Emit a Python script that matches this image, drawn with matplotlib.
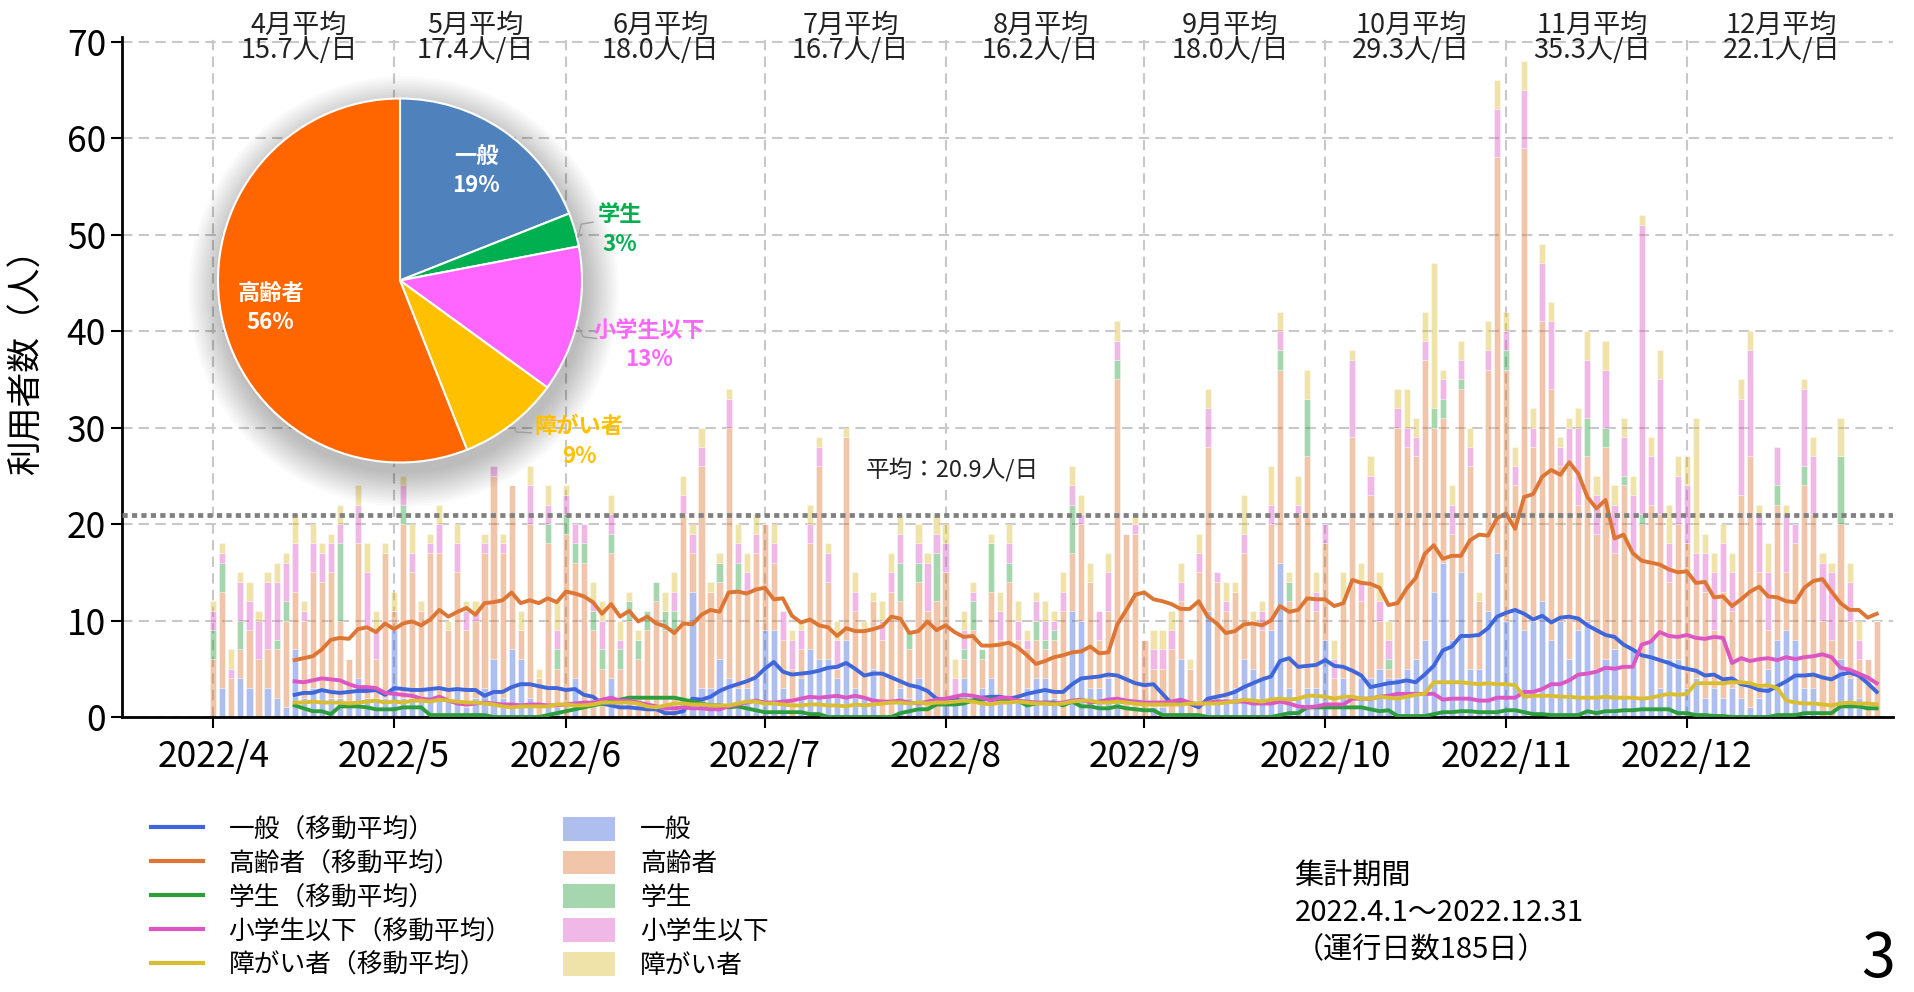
import numpy as np
import pandas as pd
import matplotlib
matplotlib.use('Agg')
import matplotlib.pyplot as plt
from matplotlib.patches import Circle, Patch
from matplotlib.lines import Line2D

plt.rcParams['font.family'] = ['Noto Sans CJK JP', 'DejaVu Sans']

# 日別の利用者数（運行日 185日）
ippan = [0, 3, 0, 4, 3, 0, 3, 2, 1, 7, 2, 3, 3, 2, 2, 1, 4, 2, 2, 2,
         9, 2, 2, 2, 3, 2, 2, 3, 1, 2, 3, 6, 2, 7, 6, 2, 0, 1, 1,
         0, 4, 0, 0, 0, 4, 0, 0, 0, 0, 0, 0, 0, 2, 13, 3, 3, 6, 4, 3, 3, 4,
         9, 9, 3, 0, 4, 7, 6, 6, 4, 8, 3, 2, 5, 0, 0, 3, 2, 4, 0, 0,
         2, 2, 4, 0, 3, 4, 2, 2, 2, 3, 4, 4, 2, 0, 11, 10, 3, 3, 4, 2, 0, 0,
         0, 1, 1, 0, 6, 0, 0, 11, 2, 2, 3, 6, 5, 4, 9, 16, 3, 2, 3, 3,
         8, 0, 4, 0, 4, 4, 5, 4, 4, 5, 6, 8, 13, 16, 8, 15, 5, 5, 11, 17,
         10, 11, 9, 10, 12, 8, 10, 6, 9, 10, 5, 6, 7, 2, 7, 2, 8, 3, 6, 6,
         3, 4, 2, 3, 2, 3, 2, 1, 2, 5, 8, 9, 8, 3, 3, 0, 0, 6, 4, 2, 0, 0]
koureisha = [6, 10, 4, 3, 6, 6, 4, 5, 9, 6, 8, 12, 11, 13, 8, 5, 14, 7, 4, 15,
             2, 18, 13, 9, 14, 15, 7, 12, 8, 8, 14, 19, 15, 17, 3, 18, 4, 17, 4,
             19, 12, 16, 9, 5, 13, 5, 10, 6, 9, 12, 9, 9, 19, 4, 23, 10, 8, 26, 10, 10, 13,
             11, 7, 5, 5, 3, 11, 20, 8, 1, 21, 8, 7, 7, 8, 13, 9, 5, 10, 11, 12,
             13, 0, 2, 9, 3, 9, 6, 12, 6, 4, 4, 3, 6, 11, 6, 10, 11, 5, 7, 33, 19, 19,
             8, 4, 4, 7, 6, 5, 15, 17, 12, 9, 10, 11, 5, 5, 11, 20, 9, 19, 24, 8,
             10, 4, 8, 29, 8, 19, 5, 1, 26, 23, 21, 29, 17, 15, 11, 19, 21, 7, 25, 41,
             26, 13, 50, 18, 29, 26, 16, 20, 13, 17, 14, 22, 10, 22, 10, 18, 14, 18, 8, 14,
             15, 10, 11, 6, 11, 8, 21, 26, 13, 4, 14, 6, 10, 21, 18, 10, 8, 14, 6, 4, 6, 10]
gakusei = [3, 3, 0, 3, 0, 0, 0, 1, 2, 0, 0, 0, 0, 0, 8, 0, 0, 0, 0, 0,
           0, 2, 0, 0, 0, 0, 0, 0, 0, 0, 0, 0, 0, 0, 0, 0, 0, 2, 2,
           2, 2, 2, 2, 2, 2, 2, 2, 2, 2, 2, 2, 2, 0, 0, 0, 0, 2, 0, 3, 0, 0,
           0, 0, 0, 0, 0, 0, 0, 0, 0, 0, 0, 0, 0, 0, 0, 4, 2, 2, 0, 5,
           0, 0, 1, 3, 1, 5, 0, 2, 0, 0, 2, 1, 1, 0, 5, 0, 0, 0, 0, 2, 0, 0,
           0, 0, 0, 0, 0, 0, 0, 0, 0, 0, 0, 0, 0, 0, 0, 2, 2, 0, 6, 0,
           0, 0, 0, 0, 0, 0, 0, 1, 0, 0, 0, 0, 2, 2, 0, 1, 0, 0, 0, 0,
           2, 0, 0, 0, 0, 0, 0, 0, 0, 4, 0, 2, 0, 1, 0, 1, 0, 0, 0, 0,
           0, 0, 0, 0, 0, 0, 0, 0, 0, 0, 2, 0, 0, 2, 0, 0, 0, 7, 0, 0, 0, 0]
shougaku = [2, 1, 1, 4, 3, 4, 7, 6, 4, 5, 1, 3, 3, 3, 2, 0, 4, 6, 3, 0,
            0, 2, 2, 0, 1, 3, 0, 3, 2, 1, 1, 1, 1, 0, 0, 4, 0, 2, 2,
            2, 2, 2, 1, 3, 2, 1, 0, 0, 0, 0, 0, 2, 2, 2, 2, 0, 0, 3, 2, 2, 2,
            0, 2, 3, 3, 2, 2, 2, 3, 3, 0, 2, 0, 0, 2, 2, 3, 0, 2, 5, 2,
            3, 2, 2, 1, 0, 0, 3, 2, 2, 1, 2, 2, 1, 2, 2, 1, 0, 3, 4, 2, 0, 1,
            0, 2, 2, 2, 2, 0, 2, 4, 1, 1, 0, 2, 0, 2, 2, 2, 0, 1, 0, 2,
            2, 2, 0, 8, 2, 2, 2, 2, 2, 2, 2, 2, 0, 2, 3, 2, 2, 0, 2, 5,
            2, 2, 6, 2, 6, 7, 2, 4, 8, 6, 4, 6, 5, 4, 6, 30, 5, 14, 4, 5,
            6, 3, 4, 6, 5, 4, 10, 11, 6, 6, 4, 6, 2, 8, 6, 6, 7, 0, 4, 2, 0, 0]
shougai = [1, 1, 2, 1, 2, 1, 1, 2, 1, 3, 1, 2, 1, 1, 2, 0, 2, 3, 2, 1,
           2, 1, 3, 1, 1, 2, 1, 2, 1, 1, 1, 0, 1, 0, 2, 2, 1, 2, 3,
           1, 0, 0, 2, 2, 2, 2, 1, 1, 0, 0, 2, 2, 2, 1, 2, 1, 1, 1, 2, 2, 2,
           0, 2, 0, 1, 1, 2, 1, 1, 2, 1, 2, 1, 1, 2, 2, 2, 0, 2, 1, 2,
           2, 2, 2, 1, 0, 1, 2, 2, 2, 1, 1, 2, 1, 2, 2, 2, 2, 0, 2, 2, 0, 1,
           0, 2, 2, 2, 2, 1, 2, 2, 0, 2, 1, 4, 1, 1, 4, 2, 1, 3, 3, 2,
           0, 2, 3, 1, 2, 2, 3, 2, 2, 4, 2, 3, 15, 1, 2, 2, 2, 1, 3, 3,
           2, 2, 3, 2, 2, 2, 1, 1, 2, 3, 2, 3, 2, 2, 2, 1, 2, 3, 4, 2,
           3, 14, 2, 2, 2, 2, 2, 2, 1, 3, 0, 1, 0, 1, 2, 1, 1, 4, 2, 2, 0, 0]

month_start = [0, 20, 39, 61, 81, 103, 123, 143, 163]
month_labels = ['2022/4', '2022/5', '2022/6', '2022/7', '2022/8',
                '2022/9', '2022/10', '2022/11', '2022/12']
month_names = ['4月', '5月', '6月', '7月', '8月', '9月', '10月', '11月', '12月']
month_avg = [15.7, 17.4, 18.0, 16.7, 16.2, 18.0, 29.3, 35.3, 22.1]
overall_avg = 20.9

pie_names = ['一般', '学生', '小学生以下', '障がい者', '高齢者']
pie_share = [19, 3, 13, 9, 56]

df = pd.DataFrame({'一般': ippan, '高齢者': koureisha, '学生': gakusei,
                   '小学生以下': shougaku, '障がい者': shougai})
x = np.arange(len(df))
line_colors = {'一般': '#3F66DA', '高齢者': '#DD7634', '学生': '#2C9E3C',
               '小学生以下': '#DC56C4', '障がい者': '#D9BE33'}

fig = plt.figure(figsize=(19.15, 9.92), dpi=100)
ax = fig.add_axes([0.0637, 0.2772, 0.9248, 0.6858])

# 積み上げ棒
bottom = np.zeros(len(df))
for col in df.columns:
    ax.bar(x, df[col], bottom=bottom, width=0.68, color=line_colors[col],
           alpha=0.42, edgecolor='white', linewidth=0.6, zorder=2)
    bottom += df[col].values

# 移動平均（10日）
for col in df.columns:
    ma = df[col].rolling(10).mean()
    ax.plot(x, ma, color=line_colors[col], lw=2.8, zorder=4)

ax.axhline(overall_avg, color='#808080', lw=3.4, linestyle=(0, (1.1, 0.9)), zorder=5)
ax.text(81.8, 25.6, '平均：20.9人/日', ha='center', va='center', fontsize=17,
        color='#222222', zorder=6,
        bbox=dict(facecolor='white', edgecolor='none', pad=6))

# 月平均
ends = month_start[1:] + [len(df)]
for s, e, name, avg in zip(month_start, ends, month_names, month_avg):
    ax.text((s + e - 1) / 2, 70.35, f'{name}平均\n{avg:.1f}人/日', ha='center',
            va='center', fontsize=19.5, linespacing=0.92, color='#222222',
            clip_on=False, zorder=6)

ax.set_xlim(-10.1, 185.8)
ax.set_ylim(0, 70.5)
ax.set_yticks(range(0, 71, 10))
ax.set_xticks(month_start)
ax.set_xticklabels(month_labels)
ax.tick_params(axis='both', labelsize=25.5, length=8, width=1.5)
ax.tick_params(axis='x', pad=8)
ax.grid(True, linestyle=(0, (5, 3)), color='#C8C8C8', linewidth=1.5)
ax.set_axisbelow(True)
for s in ['top', 'right']:
    ax.spines[s].set_visible(False)
for s in ['left', 'bottom']:
    ax.spines[s].set_linewidth(2)
ax.set_ylabel('利用者数（人）', fontsize=25)
ax.yaxis.set_label_coords(-0.0435, 0.535)

# 凡例
handles = [Line2D([0], [0], color=line_colors[c], lw=3) for c in df.columns]
handles += [Patch(facecolor=line_colors[c], alpha=0.42, edgecolor='none') for c in df.columns]
labels = [f'{c}（移動平均）' for c in df.columns] + list(df.columns)
fig.legend(handles, labels, ncol=2, loc='upper left', bbox_to_anchor=(0.067, 0.2),
           frameon=False, fontsize=18.5, handlelength=2.0, handleheight=1.05,
           handletextpad=1.0, labelspacing=0.28, columnspacing=2.0)

# 円グラフ
cx, cy, r = 400 / 1915, 1 - 280.5 / 992, 182
pax = fig.add_axes([cx - r / 1915, cy - r / 992, 2 * r / 1915, 2 * r / 992])
pax.axis('off')
for k in range(14):
    pax.add_patch(Circle((0.02, -0.06), 1.0 + 0.014 * k, color='black',
                         alpha=0.018, lw=0, clip_on=False))
pie_colors = ['#4F81BD', '#00B050', '#FF66FF', '#FFC000', '#FF6600']
pax.pie(pie_share, colors=pie_colors, startangle=90, counterclock=False,
        radius=1, wedgeprops=dict(edgecolor='white', linewidth=1.5))
pax.set_xlim(-1, 1)
pax.set_ylim(-1, 1)
pax.text(0.42, 0.60, f'一般\n{pie_share[0]}%', color='white', fontsize=16,
         fontweight='bold', ha='center', va='center', linespacing=1.35)
pax.text(-0.71, -0.15, f'高齢者\n{pie_share[4]}%', color='white', fontsize=16,
         fontweight='bold', ha='center', va='center', linespacing=1.35)
out_labels = [(1, 1.21, 0.28), (2, 1.37, -0.355), (3, 0.985, -0.884)]
for idx, tx, ty in out_labels:
    pax.text(tx, ty, f'{pie_names[idx]}\n{pie_share[idx]}%', color=pie_colors[idx],
             fontsize=16, fontweight='bold', ha='center', va='center',
             linespacing=1.35, clip_on=False)
leaders = [([0.978, 0.996, 1.06], [0.238, 0.31, 0.32]),
           ([0.98, 1.007, 1.08], [-0.256, -0.31, -0.319]),
           ([0.623, 0.64, 0.72], [-0.806, -0.833, -0.837])]
for lx, ly in leaders:
    pax.plot(lx, ly, color='#A0A0A0', lw=1, clip_on=False)

# 集計期間
fig.text(0.676, 1 - 876 / 992, '集計期間', fontsize=21, va='center')
fig.text(0.676, 1 - 913 / 992, '2022.4.1～2022.12.31', fontsize=21, va='center')
fig.text(0.676, 1 - 950 / 992, '（運行日数185日）', fontsize=21, va='center')
fig.text(0.981, 0.001, '3', fontsize=44, ha='center', va='bottom')

fig.savefig('out.png', dpi=100)
